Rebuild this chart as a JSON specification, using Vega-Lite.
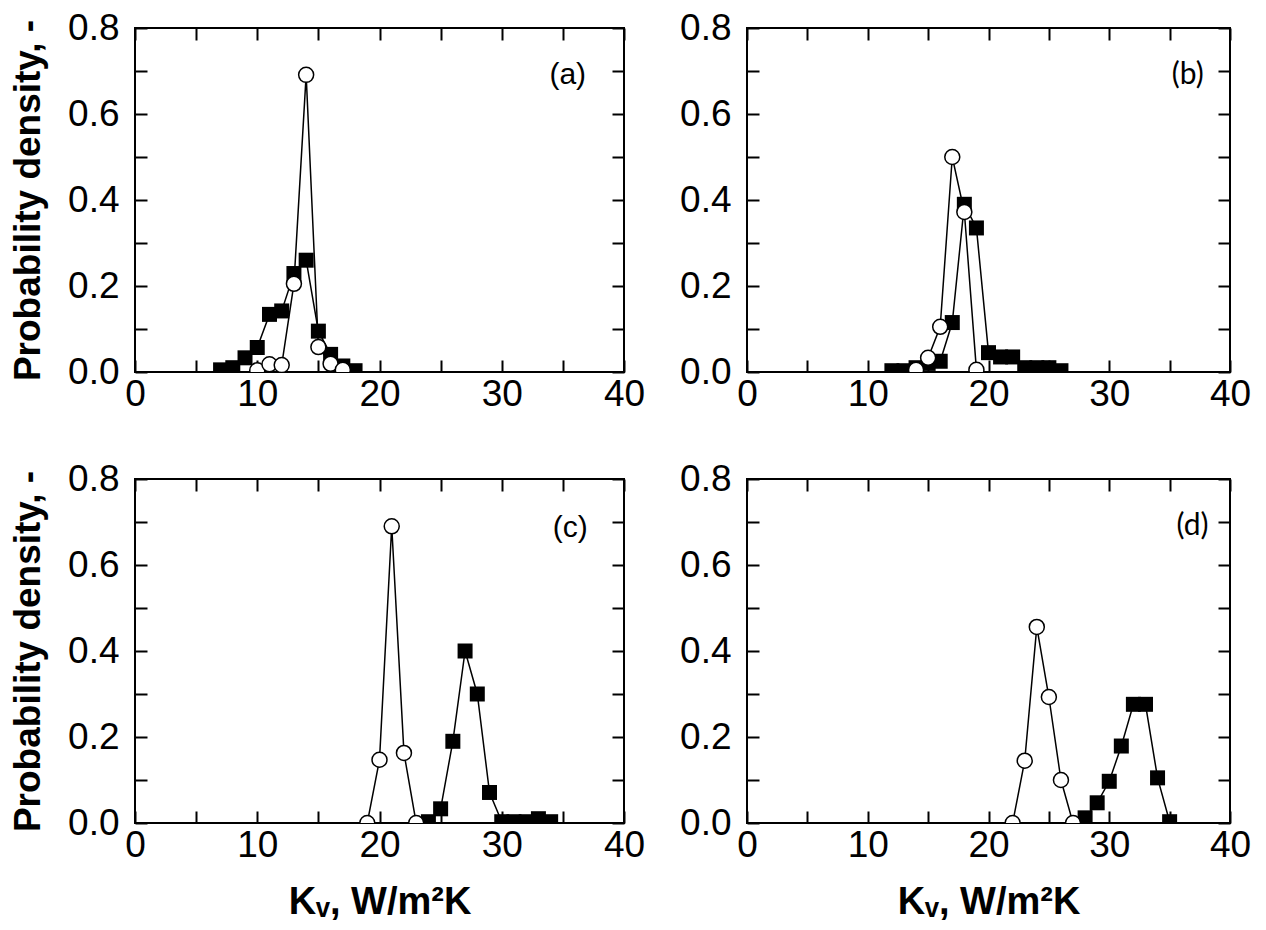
{
  "$schema": "https://vega.github.io/schema/vega-lite/v6.json",
  "background": "white",
  "padding": {"left": 8, "top": 8, "right": 5, "bottom": 3},
  "datasets": {
    "a": [
      {"series": "sq", "x": 7, "y": 0.005}, {"series": "sq", "x": 8, "y": 0.01}, {"series": "sq", "x": 9, "y": 0.033},
      {"series": "sq", "x": 10, "y": 0.057}, {"series": "sq", "x": 11, "y": 0.134}, {"series": "sq", "x": 12, "y": 0.142},
      {"series": "sq", "x": 13, "y": 0.229}, {"series": "sq", "x": 14, "y": 0.26}, {"series": "sq", "x": 15, "y": 0.095},
      {"series": "sq", "x": 16, "y": 0.041}, {"series": "sq", "x": 17, "y": 0.014}, {"series": "sq", "x": 18, "y": 0.003},
      {"series": "ci", "x": 10, "y": 0.004}, {"series": "ci", "x": 11, "y": 0.018}, {"series": "ci", "x": 12, "y": 0.016},
      {"series": "ci", "x": 13, "y": 0.205}, {"series": "ci", "x": 14, "y": 0.691}, {"series": "ci", "x": 15, "y": 0.058},
      {"series": "ci", "x": 16, "y": 0.019}, {"series": "ci", "x": 17, "y": 0.005}
    ],
    "b": [
      {"series": "sq", "x": 12, "y": 0.003}, {"series": "sq", "x": 13, "y": 0.003}, {"series": "sq", "x": 14, "y": 0.01},
      {"series": "sq", "x": 15, "y": 0.02}, {"series": "sq", "x": 16, "y": 0.025}, {"series": "sq", "x": 17, "y": 0.115},
      {"series": "sq", "x": 18, "y": 0.39}, {"series": "sq", "x": 19, "y": 0.335}, {"series": "sq", "x": 20, "y": 0.045},
      {"series": "sq", "x": 21, "y": 0.035}, {"series": "sq", "x": 22, "y": 0.035}, {"series": "sq", "x": 23, "y": 0.01},
      {"series": "sq", "x": 24, "y": 0.01}, {"series": "sq", "x": 25, "y": 0.01}, {"series": "sq", "x": 26, "y": 0.003},
      {"series": "ci", "x": 14, "y": 0.005}, {"series": "ci", "x": 15, "y": 0.033}, {"series": "ci", "x": 16, "y": 0.105},
      {"series": "ci", "x": 17, "y": 0.5}, {"series": "ci", "x": 18, "y": 0.372}, {"series": "ci", "x": 19, "y": 0.005}
    ],
    "c": [
      {"series": "sq", "x": 24, "y": 0.003}, {"series": "sq", "x": 25, "y": 0.033}, {"series": "sq", "x": 26, "y": 0.19},
      {"series": "sq", "x": 27, "y": 0.4}, {"series": "sq", "x": 28, "y": 0.3}, {"series": "sq", "x": 29, "y": 0.071},
      {"series": "sq", "x": 30, "y": 0.003}, {"series": "sq", "x": 31, "y": 0.003}, {"series": "sq", "x": 32, "y": 0.003},
      {"series": "sq", "x": 33, "y": 0.01}, {"series": "sq", "x": 34, "y": 0.003},
      {"series": "ci", "x": 19, "y": 0}, {"series": "ci", "x": 20, "y": 0.147}, {"series": "ci", "x": 21, "y": 0.69},
      {"series": "ci", "x": 22, "y": 0.163}, {"series": "ci", "x": 23, "y": 0}
    ],
    "d": [
      {"series": "sq", "x": 28, "y": 0.012}, {"series": "sq", "x": 29, "y": 0.047}, {"series": "sq", "x": 30, "y": 0.097},
      {"series": "sq", "x": 31, "y": 0.179}, {"series": "sq", "x": 32, "y": 0.276}, {"series": "sq", "x": 33, "y": 0.276},
      {"series": "sq", "x": 34, "y": 0.105}, {"series": "sq", "x": 35, "y": 0.003},
      {"series": "ci", "x": 22, "y": 0}, {"series": "ci", "x": 23, "y": 0.145}, {"series": "ci", "x": 24, "y": 0.456},
      {"series": "ci", "x": 25, "y": 0.293}, {"series": "ci", "x": 26, "y": 0.1}, {"series": "ci", "x": 27, "y": 0}
    ]
  },
  "columns": 2,
  "spacing": {"row": 107, "column": 123},
  "bounds": "flush",
  "concat": [
    {
      "width": 489, "height": 344,
      "data": {"name": "a"},
      "layer": [
        {"mark": {"type": "line", "color": "black", "strokeWidth": 1.5, "clip": true},
         "encoding": {
           "x": {"field": "x", "type": "quantitative", "scale": {"domain": [0, 40], "nice": false, "zero": false},
                 "axis": {"orient": "bottom", "values": [0, 5, 10, 15, 20, 25, 30, 35, 40], "labelExpr": "datum.value % 10 === 0 ? datum.label : ''", "labelPadding": 16, "title": null,
                          "encode": {"ticks": {"update": {"y2": {"signal": "datum.value % 10 === 0 ? -12 : -7"}}}}}},
           "y": {"field": "y", "type": "quantitative", "scale": {"domain": [0, 0.8], "nice": false},
                 "axis": {"orient": "left", "values": [0, 0.1, 0.2, 0.3, 0.4, 0.5, 0.6, 0.7, 0.8], "format": ".1f", "labelExpr": "round(datum.value * 10) % 2 === 0 ? datum.label : ''", "labelPadding": 28, "title": "Probability density, -", "titlePadding": 20,
                          "encode": {"ticks": {"update": {"x2": {"signal": "round(datum.value * 10) % 2 === 0 ? 12 : 7"}}}}}},
           "detail": {"field": "series"}
         }},
        {"transform": [{"filter": "datum.series === 'sq'"}],
         "mark": {"type": "point", "shape": "square", "filled": true, "color": "black", "opacity": 1, "size": 225, "clip": true},
         "encoding": {"x": {"field": "x", "type": "quantitative", "axis": null}, "y": {"field": "y", "type": "quantitative", "axis": null}}},
        {"transform": [{"filter": "datum.series === 'ci'"}],
         "mark": {"type": "point", "shape": "circle", "filled": true, "fill": "white", "stroke": "black", "strokeWidth": 1.5, "opacity": 1, "size": 225, "clip": true},
         "encoding": {
           "x": {"field": "x", "type": "quantitative",
                 "axis": {"orient": "top", "values": [0, 5, 10, 15, 20, 25, 30, 35, 40], "labels": false, "title": null,
                          "encode": {"ticks": {"update": {"y2": {"signal": "datum.value % 10 === 0 ? 12 : 7"}}}}}},
           "y": {"field": "y", "type": "quantitative",
                 "axis": {"orient": "right", "values": [0, 0.1, 0.2, 0.3, 0.4, 0.5, 0.6, 0.7, 0.8], "labels": false, "title": null,
                          "encode": {"ticks": {"update": {"x2": {"signal": "round(datum.value * 10) % 2 === 0 ? -12 : -7"}}}}}}
         }},
        {"data": {"values": [{}]},
         "mark": {"type": "text", "text": "(a)", "font": "Liberation Sans", "fontSize": 30, "color": "black"},
         "encoding": {"x": {"datum": 35.4, "type": "quantitative", "axis": null}, "y": {"datum": 0.69, "type": "quantitative", "axis": null}}}
      ],
      "resolve": {"axis": {"x": "independent", "y": "independent"}}
    },
    {
      "width": 483, "height": 344,
      "data": {"name": "b"},
      "layer": [
        {"mark": {"type": "line", "color": "black", "strokeWidth": 1.5, "clip": true},
         "encoding": {
           "x": {"field": "x", "type": "quantitative", "scale": {"domain": [0, 40], "nice": false, "zero": false},
                 "axis": {"orient": "bottom", "values": [0, 5, 10, 15, 20, 25, 30, 35, 40], "labelExpr": "datum.value % 10 === 0 ? datum.label : ''", "labelPadding": 16, "title": null,
                          "encode": {"ticks": {"update": {"y2": {"signal": "datum.value % 10 === 0 ? -12 : -7"}}}}}},
           "y": {"field": "y", "type": "quantitative", "scale": {"domain": [0, 0.8], "nice": false},
                 "axis": {"orient": "left", "values": [0, 0.1, 0.2, 0.3, 0.4, 0.5, 0.6, 0.7, 0.8], "format": ".1f", "labelExpr": "round(datum.value * 10) % 2 === 0 ? datum.label : ''", "labelPadding": 28, "title": null,
                          "encode": {"ticks": {"update": {"x2": {"signal": "round(datum.value * 10) % 2 === 0 ? 12 : 7"}}}}}},
           "detail": {"field": "series"}
         }},
        {"transform": [{"filter": "datum.series === 'sq'"}],
         "mark": {"type": "point", "shape": "square", "filled": true, "color": "black", "opacity": 1, "size": 225, "clip": true},
         "encoding": {"x": {"field": "x", "type": "quantitative", "axis": null}, "y": {"field": "y", "type": "quantitative", "axis": null}}},
        {"transform": [{"filter": "datum.series === 'ci'"}],
         "mark": {"type": "point", "shape": "circle", "filled": true, "fill": "white", "stroke": "black", "strokeWidth": 1.5, "opacity": 1, "size": 225, "clip": true},
         "encoding": {
           "x": {"field": "x", "type": "quantitative",
                 "axis": {"orient": "top", "values": [0, 5, 10, 15, 20, 25, 30, 35, 40], "labels": false, "title": null,
                          "encode": {"ticks": {"update": {"y2": {"signal": "datum.value % 10 === 0 ? 12 : 7"}}}}}},
           "y": {"field": "y", "type": "quantitative",
                 "axis": {"orient": "right", "values": [0, 0.1, 0.2, 0.3, 0.4, 0.5, 0.6, 0.7, 0.8], "labels": false, "title": null,
                          "encode": {"ticks": {"update": {"x2": {"signal": "round(datum.value * 10) % 2 === 0 ? -12 : -7"}}}}}}
         }},
        {"data": {"values": [{}]},
         "mark": {"type": "text", "text": "(b)", "font": "Lato", "fontSize": 30, "color": "black"},
         "encoding": {"x": {"datum": 36.5, "type": "quantitative", "axis": null}, "y": {"datum": 0.69, "type": "quantitative", "axis": null}}}
      ],
      "resolve": {"axis": {"x": "independent", "y": "independent"}}
    },
    {
      "width": 489, "height": 344,
      "data": {"name": "c"},
      "layer": [
        {"mark": {"type": "line", "color": "black", "strokeWidth": 1.5, "clip": true},
         "encoding": {
           "x": {"field": "x", "type": "quantitative", "scale": {"domain": [0, 40], "nice": false, "zero": false},
                 "axis": {"orient": "bottom", "values": [0, 5, 10, 15, 20, 25, 30, 35, 40], "labelExpr": "datum.value % 10 === 0 ? datum.label : ''", "labelPadding": 16, "title": "Kᵥ, W/m²K", "titlePadding": 20, "titleFontSize": 38,
                          "encode": {"ticks": {"update": {"y2": {"signal": "datum.value % 10 === 0 ? -12 : -7"}}}}}},
           "y": {"field": "y", "type": "quantitative", "scale": {"domain": [0, 0.8], "nice": false},
                 "axis": {"orient": "left", "values": [0, 0.1, 0.2, 0.3, 0.4, 0.5, 0.6, 0.7, 0.8], "format": ".1f", "labelExpr": "round(datum.value * 10) % 2 === 0 ? datum.label : ''", "labelPadding": 28, "title": "Probability density, -", "titlePadding": 20,
                          "encode": {"ticks": {"update": {"x2": {"signal": "round(datum.value * 10) % 2 === 0 ? 12 : 7"}}}}}},
           "detail": {"field": "series"}
         }},
        {"transform": [{"filter": "datum.series === 'sq'"}],
         "mark": {"type": "point", "shape": "square", "filled": true, "color": "black", "opacity": 1, "size": 225, "clip": true},
         "encoding": {"x": {"field": "x", "type": "quantitative", "axis": null}, "y": {"field": "y", "type": "quantitative", "axis": null}}},
        {"transform": [{"filter": "datum.series === 'ci'"}],
         "mark": {"type": "point", "shape": "circle", "filled": true, "fill": "white", "stroke": "black", "strokeWidth": 1.5, "opacity": 1, "size": 225, "clip": true},
         "encoding": {
           "x": {"field": "x", "type": "quantitative",
                 "axis": {"orient": "top", "values": [0, 5, 10, 15, 20, 25, 30, 35, 40], "labels": false, "title": null,
                          "encode": {"ticks": {"update": {"y2": {"signal": "datum.value % 10 === 0 ? 12 : 7"}}}}}},
           "y": {"field": "y", "type": "quantitative",
                 "axis": {"orient": "right", "values": [0, 0.1, 0.2, 0.3, 0.4, 0.5, 0.6, 0.7, 0.8], "labels": false, "title": null,
                          "encode": {"ticks": {"update": {"x2": {"signal": "round(datum.value * 10) % 2 === 0 ? -12 : -7"}}}}}}
         }},
        {"data": {"values": [{}]},
         "mark": {"type": "text", "text": "(c)", "font": "Liberation Sans", "fontSize": 30, "color": "black"},
         "encoding": {"x": {"datum": 35.6, "type": "quantitative", "axis": null}, "y": {"datum": 0.686, "type": "quantitative", "axis": null}}}
      ],
      "resolve": {"axis": {"x": "independent", "y": "independent"}}
    },
    {
      "width": 483, "height": 344,
      "data": {"name": "d"},
      "layer": [
        {"mark": {"type": "line", "color": "black", "strokeWidth": 1.5, "clip": true},
         "encoding": {
           "x": {"field": "x", "type": "quantitative", "scale": {"domain": [0, 40], "nice": false, "zero": false},
                 "axis": {"orient": "bottom", "values": [0, 5, 10, 15, 20, 25, 30, 35, 40], "labelExpr": "datum.value % 10 === 0 ? datum.label : ''", "labelPadding": 16, "title": "Kᵥ, W/m²K", "titlePadding": 20, "titleFontSize": 38,
                          "encode": {"ticks": {"update": {"y2": {"signal": "datum.value % 10 === 0 ? -12 : -7"}}}}}},
           "y": {"field": "y", "type": "quantitative", "scale": {"domain": [0, 0.8], "nice": false},
                 "axis": {"orient": "left", "values": [0, 0.1, 0.2, 0.3, 0.4, 0.5, 0.6, 0.7, 0.8], "format": ".1f", "labelExpr": "round(datum.value * 10) % 2 === 0 ? datum.label : ''", "labelPadding": 28, "title": null,
                          "encode": {"ticks": {"update": {"x2": {"signal": "round(datum.value * 10) % 2 === 0 ? 12 : 7"}}}}}},
           "detail": {"field": "series"}
         }},
        {"transform": [{"filter": "datum.series === 'sq'"}],
         "mark": {"type": "point", "shape": "square", "filled": true, "color": "black", "opacity": 1, "size": 225, "clip": true},
         "encoding": {"x": {"field": "x", "type": "quantitative", "axis": null}, "y": {"field": "y", "type": "quantitative", "axis": null}}},
        {"transform": [{"filter": "datum.series === 'ci'"}],
         "mark": {"type": "point", "shape": "circle", "filled": true, "fill": "white", "stroke": "black", "strokeWidth": 1.5, "opacity": 1, "size": 225, "clip": true},
         "encoding": {
           "x": {"field": "x", "type": "quantitative",
                 "axis": {"orient": "top", "values": [0, 5, 10, 15, 20, 25, 30, 35, 40], "labels": false, "title": null,
                          "encode": {"ticks": {"update": {"y2": {"signal": "datum.value % 10 === 0 ? 12 : 7"}}}}}},
           "y": {"field": "y", "type": "quantitative",
                 "axis": {"orient": "right", "values": [0, 0.1, 0.2, 0.3, 0.4, 0.5, 0.6, 0.7, 0.8], "labels": false, "title": null,
                          "encode": {"ticks": {"update": {"x2": {"signal": "round(datum.value * 10) % 2 === 0 ? -12 : -7"}}}}}}
         }},
        {"data": {"values": [{}]},
         "mark": {"type": "text", "text": "(d)", "font": "Lato", "fontSize": 30, "color": "black"},
         "encoding": {"x": {"datum": 36.9, "type": "quantitative", "axis": null}, "y": {"datum": 0.69, "type": "quantitative", "axis": null}}}
      ],
      "resolve": {"axis": {"x": "independent", "y": "independent"}}
    }
  ],
  "config": {
    "view": {"stroke": "black", "strokeWidth": 2},
    "font": "Liberation Sans",
    "axis": {
      "domain": false, "grid": false, "ticks": true,
      "tickSize": -12, "tickWidth": 2, "tickColor": "black",
      "labelFont": "Liberation Sans", "labelFontSize": 37, "labelColor": "black",
      "labelOverlap": false, "labelFlush": false,
      "titleFont": "Liberation Sans", "titleFontSize": 37, "titleFontWeight": "bold", "titleColor": "black"
    }
  }
}
